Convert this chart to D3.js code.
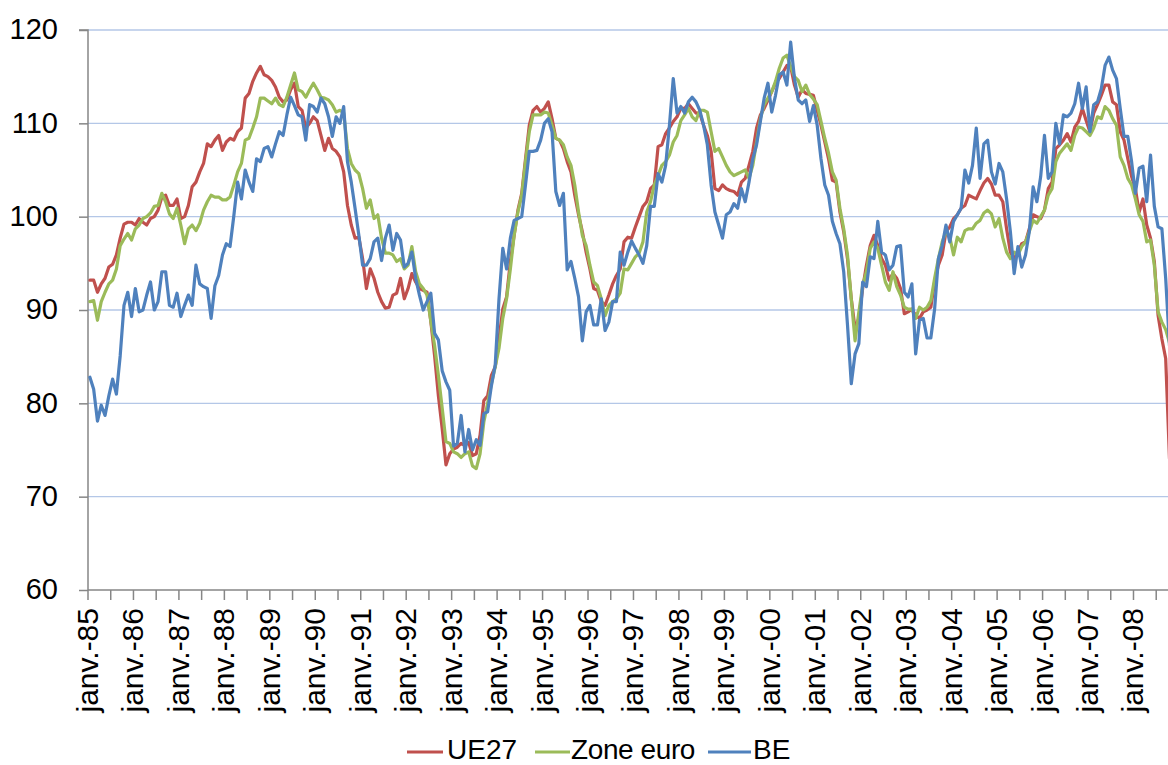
<!DOCTYPE html>
<html>
<head>
<meta charset="utf-8">
<script src="https://cdn.jsdelivr.net/npm/d3@7"></script>
<style>
html,body{margin:0;padding:0;background:#fff;}
svg{display:block;font-family:"Liberation Sans",Arial,sans-serif;}
</style>
</head>
<body>
<svg id="chart" width="1168" height="765"></svg>
<script>
// Monthly series, janv. 1985 onwards (one row per year)
const ue27 = [
93.2,93.2,91.9,92.8,93.4,94.6,94.9,95.9,97.7,99.2,99.4,99.4,
99.1,99.8,99.4,99.1,99.8,100.0,100.7,102.1,102.3,101.2,101.2,101.9,
99.8,100.0,101.2,103.2,103.7,104.8,105.7,107.8,107.5,108.2,108.7,107.1,
108.0,108.4,108.2,109.1,109.5,112.7,113.2,114.5,115.4,116.1,115.2,115.0,
114.6,113.9,112.8,112.3,112.5,113.6,114.3,111.8,111.4,109.5,110.0,110.7,
110.3,108.7,107.1,108.4,107.3,107.0,106.4,104.8,101.2,99.1,97.7,97.8,
95.5,92.3,94.4,93.4,91.9,90.9,90.2,90.3,91.6,91.8,93.4,91.2,
92.3,93.9,93.0,92.3,92.1,91.9,88.8,85.1,80.8,77.3,73.4,74.6,
75.1,75.3,75.7,75.5,75.8,74.4,74.6,76.6,80.3,80.8,83.0,83.9,
86.9,90.1,91.4,95.2,98.0,100.7,102.5,106.2,109.8,111.4,111.8,111.2,
111.6,112.3,110.5,108.4,108.2,107.3,105.9,104.8,102.3,100.2,98.4,96.2,
94.4,92.3,92.1,90.9,90.5,91.6,92.8,93.7,94.4,97.3,97.8,97.7,
98.9,100.0,101.1,101.6,103.0,103.4,107.5,107.7,108.9,109.5,110.2,110.7,
111.6,111.6,112.1,111.6,111.1,111.1,109.8,108.7,107.0,103.0,102.8,103.4,
103.0,102.8,102.7,102.3,103.7,104.1,105.5,107.0,109.5,110.9,111.6,112.5,
113.4,114.3,114.8,115.5,116.2,116.1,114.1,112.8,113.6,113.2,113.1,113.0,
111.4,109.8,108.0,106.2,103.9,103.7,100.5,98.4,95.5,91.2,88.0,89.1,
92.3,94.8,96.9,98.0,96.9,95.5,94.8,93.2,93.9,93.4,92.3,89.6,
89.8,90.1,89.4,89.1,89.8,90.0,90.3,93.0,94.8,95.9,98.4,98.9,
99.8,100.2,100.9,101.2,102.3,102.1,101.9,102.8,103.6,104.1,103.5,102.3,
102.3,101.6,98.7,96.2,95.5,96.2,97.1,97.3,98.7,100.2,100.0,99.8,
100.7,103.0,103.7,107.3,107.7,108.2,108.9,108.0,109.6,110.2,111.6,110.3,
109.1,111.1,112.0,113.0,114.1,114.1,112.3,112.0,109.1,108.2,106.2,104.3,
103.0,100.5,101.9,99.1,97.7,95.2,89.4,86.9,84.8,74.1
];
const zoneEuro = [
90.9,91.0,88.9,90.9,91.9,92.8,93.2,94.4,96.9,97.6,98.2,97.5,
98.7,99.1,99.8,100.0,100.4,101.1,101.2,102.5,101.6,100.3,99.8,100.9,
99.1,97.1,98.7,99.1,98.5,99.3,100.7,101.6,102.3,102.1,102.1,101.8,
101.8,102.1,103.4,104.8,105.7,108.2,108.4,109.5,110.7,112.7,112.7,112.4,
112.1,112.7,112.0,111.8,112.8,114.1,115.4,113.6,113.4,112.8,113.6,114.3,
113.6,112.8,112.7,112.5,112.0,111.2,111.4,111.1,107.3,105.7,105.0,104.6,
103.0,100.9,101.8,99.8,100.2,97.7,96.1,96.1,95.9,95.2,95.5,94.4,
94.8,96.8,94.1,92.8,92.3,91.6,88.8,86.2,83.0,79.5,75.9,75.7,
74.8,74.6,74.2,74.6,74.8,73.3,73.0,74.6,78.0,80.0,82.1,83.9,
85.9,89.1,91.2,94.4,98.0,100.5,102.3,105.9,109.1,110.9,110.9,110.9,
111.2,111.1,109.8,108.4,108.2,107.7,106.4,105.5,103.4,100.5,98.0,96.9,
94.8,93.0,92.6,91.2,89.4,90.5,90.9,91.2,91.8,94.4,94.3,95.0,
95.7,96.1,97.3,100.5,101.6,103.4,104.4,105.5,105.9,106.6,108.0,108.7,
110.3,110.9,111.6,110.7,110.3,111.4,111.4,111.2,109.1,107.0,107.3,106.4,
105.5,104.8,104.4,104.6,104.8,105.0,104.1,105.5,108.0,110.5,112.0,112.7,
113.4,114.5,115.9,117.0,117.3,116.1,115.0,114.6,113.4,114.1,113.1,112.6,
112.0,110.2,108.4,106.8,104.8,103.9,100.9,98.7,95.9,91.2,86.7,89.8,
92.6,94.1,96.6,97.3,96.6,94.8,93.0,92.1,94.1,92.5,91.6,90.3,
90.1,90.1,89.1,90.3,90.0,90.3,91.0,93.4,95.5,97.3,98.4,97.8,
95.9,97.8,97.3,98.5,98.7,98.7,99.3,99.6,100.4,100.7,100.3,98.9,
99.8,97.7,96.2,95.5,96.2,95.9,96.8,97.3,98.4,99.6,99.3,100.0,
100.7,102.3,103.0,105.9,106.8,107.3,107.8,107.1,108.7,109.6,109.5,109.1,
108.7,109.5,110.7,110.5,111.8,111.4,110.5,109.8,106.4,105.5,104.1,103.4,
101.9,100.2,99.5,97.3,97.5,94.8,89.8,88.7,87.9,86.5
];
const be = [
82.8,81.5,78.1,79.8,78.7,80.8,82.6,81.0,85.1,90.5,91.9,89.3,
92.3,89.8,90.0,91.6,93.0,90.0,90.9,94.1,94.1,90.5,90.3,91.8,
89.3,90.5,91.6,90.5,94.8,92.8,92.5,92.3,89.1,92.6,93.7,95.9,
97.1,96.8,100.1,103.7,101.9,105.0,103.7,102.7,106.2,105.9,107.3,107.5,
106.4,107.8,109.1,108.7,110.9,112.8,111.9,110.9,110.7,108.2,112.0,111.8,
111.2,112.7,112.1,110.7,108.6,110.7,110.0,111.8,105.9,103.7,100.9,98.0,
94.8,94.8,95.5,97.3,97.7,95.3,97.7,99.1,96.4,98.2,97.5,94.6,
95.0,96.2,93.4,91.6,90.0,90.9,91.8,87.5,86.8,83.5,82.3,81.4,
75.4,75.7,78.7,74.8,77.2,75.0,76.1,75.5,78.9,79.1,81.9,84.1,
91.2,96.6,94.4,97.7,99.6,99.8,100.0,103.4,107.0,107.0,107.1,108.2,
110.0,110.5,109.1,102.7,101.2,102.5,94.3,95.2,93.4,91.4,86.7,89.8,
90.5,88.4,88.4,91.2,87.8,88.7,90.9,90.9,96.2,94.8,96.2,97.4,
96.6,95.9,95.0,96.9,101.1,101.1,104.6,103.7,105.5,109.8,114.8,111.1,
111.8,111.1,112.3,112.8,112.3,111.4,109.8,107.7,103.4,100.5,99.1,97.7,
100.2,100.5,101.4,100.9,103.0,101.6,103.7,106.2,107.7,110.2,112.7,114.3,
111.2,113.0,115.2,115.5,114.1,118.7,114.8,112.5,112.1,112.5,110.2,111.9,
109.8,106.2,103.4,102.3,99.5,98.2,97.1,94.1,88.4,82.1,85.3,86.4,
93.0,92.5,95.7,95.5,99.5,96.2,95.9,94.3,94.8,96.8,96.9,91.9,
91.4,92.8,85.3,88.9,89.1,87.0,87.0,90.1,95.5,96.9,99.1,97.3,
99.5,100.2,100.9,105.0,103.6,105.5,109.5,104.1,107.8,108.2,104.8,103.5,
105.7,104.8,101.9,98.4,93.9,96.8,94.6,95.9,98.4,103.2,101.6,104.3,
108.7,104.1,104.8,110.0,107.8,110.9,110.7,111.1,112.1,114.3,111.6,113.9,
109.1,112.0,112.3,113.7,116.2,117.1,115.7,114.8,111.6,108.6,108.6,105.9,
102.5,105.2,105.4,101.6,106.6,101.1,98.9,98.7,93.4,86.2
];
const yTicks = [60, 70, 80, 90, 100, 110, 120];
const years = ["85","86","87","88","89","90","91","92","93","94","95","96","97","98","99","00","01","02","03","04","05","06","07","08"];
const xLabels = years.map(v => "janv.-" + v);
const seriesNames = ["UE27", "Zone euro", "BE"];

(function () {
const colors = ["#C0504D", "#9BBB59", "#4F81BD"];
const nMonths = ue27.length;
const monthW = 3.788;
const padL = 88, padT = 30, padB = 590;

const svg = d3.select("#chart");
svg.append("rect").attr("width",1168).attr("height",765).attr("fill","#fff");

const x = d3.scaleBand().domain(d3.range(nMonths)).range([padL, padL + nMonths*monthW]).paddingInner(0).paddingOuter(0);
const y = d3.scaleLinear().domain([60,120]).range([padB, padT]);
const padR = padL + nMonths*monthW;
const cx = i => x(i) + x.bandwidth()/2;

// gridlines
svg.append("g").selectAll("line").data(yTicks.filter(v => v > 60)).join("line")
  .attr("x1", padL).attr("x2", padR)
  .attr("y1", d => y(d)).attr("y2", d => y(d))
  .attr("stroke", "#B4C7E7").attr("stroke-width", 1.3);

// y axis
const yAxis = d3.axisLeft(y).tickValues(yTicks).tickSize(9).tickPadding(21).tickFormat(d3.format("d"));
const gy = svg.append("g").attr("transform", `translate(${padL},0)`).call(yAxis);
gy.select(".domain").attr("stroke", "#868686").attr("stroke-width", 1.5).attr("d", `M-9,${padT}H0V${padB}`);
gy.selectAll(".tick line").attr("stroke", "#868686").attr("stroke-width", 1.5);
gy.selectAll(".tick text").attr("font-size", 29).attr("fill", "#000")
  .attr("font-family", "Liberation Sans, Arial, sans-serif").attr("dy", "0.3em");

// x axis
const gx = svg.append("g").attr("transform", `translate(0,${padB})`);
gx.append("line").attr("x1", padL).attr("x2", padR).attr("y1", 0).attr("y2", 0)
  .attr("stroke", "#868686").attr("stroke-width", 1.5);
const tickIdx = d3.range(0, nMonths + 1, 6);
gx.selectAll("line.tk").data(tickIdx).join("line").attr("class","tk")
  .attr("x1", d => padL + d*x.bandwidth()).attr("x2", d => padL + d*x.bandwidth())
  .attr("y1", 0).attr("y2", 10).attr("stroke", "#868686").attr("stroke-width", 1.5);
gx.selectAll("text").data(xLabels).join("text")
  .attr("transform", (d,k) => `translate(${cx(k*12)},18) rotate(-90)`)
  .attr("text-anchor", "end").attr("dy", "0.27em")
  .attr("font-size", 30).attr("fill", "#000")
  .text(d => d);

// lines
const data = [ue27, zoneEuro, be];
const line = d3.line().x((d,i) => cx(i)).y(d => y(d));
svg.append("g").selectAll("path").data(data).join("path")
  .attr("d", d => line(d))
  .attr("fill", "none")
  .attr("stroke", (d,k) => colors[k])
  .attr("stroke-width", 3.2)
  .attr("stroke-linejoin", "round")
  .attr("stroke-linecap", "round");

// legend
const legendPos = [[407, 443, 447], [535, 570, 571], [708, 751, 753]];
const lg = svg.append("g");
seriesNames.forEach((name, k) => {
  const [x1, x2, tx] = legendPos[k];
  lg.append("line").attr("x1", x1).attr("x2", x2).attr("y1", 752).attr("y2", 752)
    .attr("stroke", colors[k]).attr("stroke-width", 3.2);
  lg.append("text").attr("x", tx).attr("y", 758.5).attr("font-size", 28).attr("fill", "#000")
    .attr("letter-spacing", k === 1 ? "-0.4" : "0").text(name);
});
})();
</script>
</body>
</html>
